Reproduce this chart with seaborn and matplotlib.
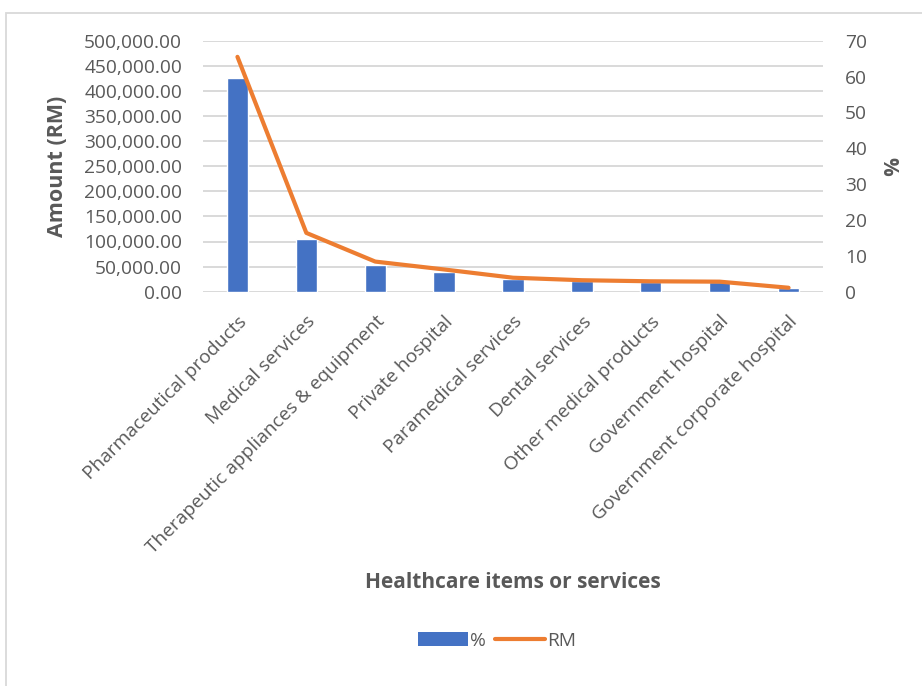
import matplotlib
matplotlib.use("Agg")
import matplotlib.pyplot as plt
from matplotlib.patches import Rectangle, Patch
from matplotlib.lines import Line2D
from matplotlib.ticker import FuncFormatter, MultipleLocator
import numpy as np
import pandas as pd
import seaborn as sns

# Healthcare spending by item or service
categories = [
    "Pharmaceutical products",
    "Medical services",
    "Therapeutic appliances & equipment",
    "Private hospital",
    "Paramedical services",
    "Dental services",
    "Other medical products",
    "Government hospital",
    "Government corporate hospital",
]
amount_rm = [425000, 105000, 52600, 38800, 26000, 22000, 19500, 19000, 6700]
share_pct = [65.5, 16.4, 8.4, 6.2, 3.9, 3.2, 2.9, 2.8, 1.1]

df = pd.DataFrame({
    "item": categories,
    "pos": np.arange(len(categories)),
    "amount": amount_rm,
    "pct": share_pct,
})

sns.set_theme(style="white")
plt.rcParams["font.family"] = ["Open Sans", "DejaVu Sans"]

TEXT = "#595959"
GRID = "#d9d9d9"
BLUE = "#4472C4"
ORANGE = "#ED7D31"
TICK_SIZE = 13.8

fig = plt.figure(figsize=(9.22, 6.86), dpi=100)
fig.patch.set_facecolor("white")

# chart frame
fig.patches.append(Rectangle((6 / 922, -0.05), 1.2, 1 - 13 / 686 + 0.05,
                             transform=fig.transFigure, fill=False,
                             edgecolor=GRID, linewidth=1.3, zorder=0))

ax = fig.add_axes([203 / 922, 1 - 291.7 / 686, 620 / 922, 251 / 686])
sns.barplot(data=df, x="pos", y="amount", color=BLUE, width=0.31,
            saturation=1, ax=ax, zorder=3)
ax.set_xlim(-0.5, len(categories) - 0.5)
ax.set_ylim(0, 500000)
ax.yaxis.set_major_locator(MultipleLocator(50000))
ax.yaxis.set_major_formatter(FuncFormatter(lambda v, _: f"{v:,.2f}"))
ax.grid(axis="y", color=GRID, linewidth=1.4, zorder=0)
ax.set_axisbelow(True)
for s in ax.spines.values():
    s.set_visible(False)
ax.tick_params(axis="y", length=0, pad=15, labelsize=TICK_SIZE, labelcolor=TEXT)
ax.tick_params(axis="x", length=0, pad=15, labelsize=TICK_SIZE, labelcolor=TEXT)
ax.set_xticks(df["pos"])
ax.set_xticklabels(categories, rotation=45, ha="right", va="top",
                   rotation_mode="anchor")
ax.set_ylabel("Amount (RM)", fontsize=15.5, fontweight="bold", color=TEXT)
ax.yaxis.set_label_coords(-0.218, 0.5)
ax.set_xlabel("Healthcare items or services", fontsize=15, fontweight="bold",
              color=TEXT)
ax.xaxis.set_label_coords(0.5, -1.117)

ax2 = ax.twinx()
sns.lineplot(data=df, x="pos", y="pct", color=ORANGE, linewidth=3.0,
             ax=ax2, zorder=4)
ax2.set_ylim(0, 70)
ax2.yaxis.set_major_locator(MultipleLocator(10))
for s in ax2.spines.values():
    s.set_visible(False)
ax2.tick_params(axis="y", length=0, pad=16, labelsize=TICK_SIZE, labelcolor=TEXT)
ax2.set_ylabel("%", fontsize=15, fontweight="bold", color=TEXT, rotation=270)
ax2.yaxis.set_label_coords(1.121, 0.5)
ax2.grid(False)

handles = [Patch(facecolor=BLUE, edgecolor="none"),
           Line2D([0], [0], color=ORANGE, linewidth=3.0)]
fig.legend(handles, ["%", "RM"], loc="center", ncol=2,
           bbox_to_anchor=(497 / 922, 1 - 641 / 686), frameon=False,
           fontsize=TICK_SIZE, labelcolor=TEXT, handlelength=2.6,
           handleheight=0.75, handletextpad=0.1, columnspacing=0.5)

fig.savefig("out.png", dpi=100)
